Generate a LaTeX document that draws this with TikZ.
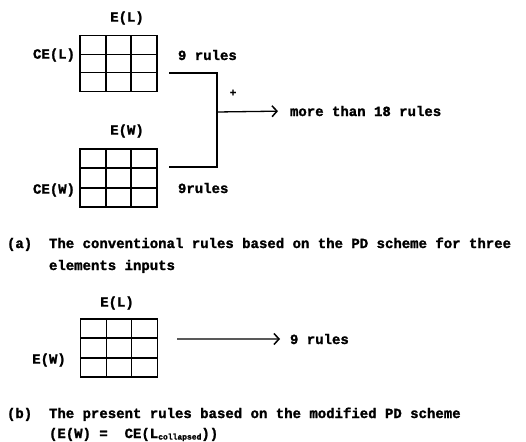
\documentclass[tikz,border=0pt]{standalone}
\usepackage{fontspec}
\setmainfont{Liberation Mono}[BoldFeatures={FakeBold=1.5}]
\usetikzlibrary{arrows.meta}
\tikzset{every node/.style={font=\bfseries\fontsize{14}{17}\selectfont, inner sep=0pt, outer sep=0pt},
  table/.style={draw, line width=1.5pt, minimum width=77pt, minimum height=56pt},
  wire/.style={line width=1.3pt},
  flow/.style={line width=1.3pt, -{Straight Barb[length=5pt,width=11pt,line width=1.5pt]}}}

\begin{document}
\begin{tikzpicture}[x=1pt,y=-1pt]
  \useasboundingbox (0,0) rectangle (526,441);
  % (a) conventional scheme
  \node[table] (tL) at (118.5,63.5) {};
  \node[table, minimum height=58pt] (tW) at (118.5,178) {};
  \node (eL) at (127,18) {E(L)};
  \node (ceL) at (54,55) {CE(L)};
  \node (eW) at (127,131) {E(W)};
  \node (ceW) at (54,190) {CE(W)};
  \node[anchor=base west] (rL) at (178,60) {9 rules};
  \node[anchor=base west] (rW) at (178,193) {9rules};
  \coordinate (oL) at (169,73);
  \coordinate (oW) at (169,167);
  \coordinate (j) at (217,112);
  \node (plus) at (233,93) {\fontsize{11}{11}\selectfont +};
  \node[anchor=base west] (more) at (290,116) {more than 18 rules};
  \draw[wire] (oL) -| (j) |- (oW);
  \draw[flow, shorten >=12pt] (j) -- (more.west);
  % (b) modified scheme
  \node[table, minimum height=58pt] (tB) at (119,348) {};
  \node (eLb) at (117,303) {E(L)};
  \node (eWb) at (49,360) {E(W)};
  \coordinate (s) at (177,339);
  \node[anchor=base west] (rB) at (290,344) {9 rules};
  \draw[flow, shorten >=10pt] (s) -- (rB.west);
  % cells
  \foreach \t in {tL,tW,tB} {
    \draw[wire] ([xshift=26pt]\t.north west) -- ([xshift=26pt]\t.south west);
    \draw[wire] ([xshift=-26pt]\t.north east) -- ([xshift=-26pt]\t.south east);
    \draw[wire] ([yshift=-19pt]\t.north west) -- ([yshift=-19pt]\t.north east);
    \draw[wire] ([yshift=19pt]\t.south west) -- ([yshift=19pt]\t.south east);
  }
  % captions
  \node[anchor=base west] (capA) at (7,248) {(a)};
  \node[anchor=base west] (txtA1) at (49,248) {The conventional rules based on the PD scheme for three};
  \node[anchor=base west] (txtA2) at (49,270) {elements inputs};
  \node[anchor=base west] (capB) at (7,418) {(b)};
  \node[anchor=base west] (txtB1) at (49,418) {The present rules based on the modified PD scheme};
  \node[anchor=base west] (txtB2) at (49,438) {(E(W) =~~CE(L\raisebox{-1.5pt}{\fontsize{8}{8}\selectfont collapsed}))};
\end{tikzpicture}
\end{document}
